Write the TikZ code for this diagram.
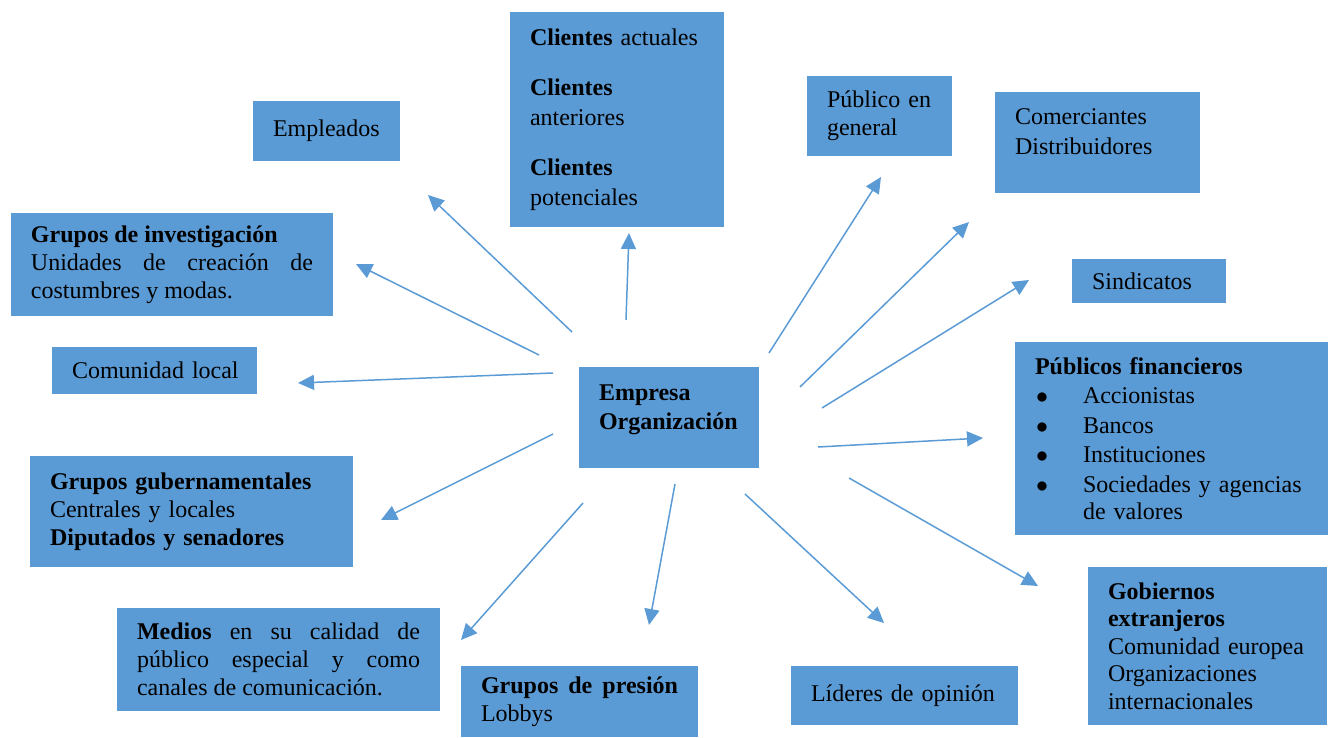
\documentclass[tikz,border=0pt]{standalone}
\usepackage{fontspec}
\setmainfont{Liberation Serif}
\usepackage{tikz}
\usetikzlibrary{arrows.meta,positioning}
\definecolor{boxblue}{HTML}{5B9BD5}
\hyphenpenalty=10000
\exhyphenpenalty=10000
\newcommand{\itembul}{\makebox[24pt][l]{\hspace{0.5pt}$\bullet$}}

\begin{document}
\begin{tikzpicture}[x=0.5pt,y=-0.5pt,
    box/.style={fill=boxblue,draw=none,inner xsep=10pt,inner ysep=0pt,align=left,font=\fontsize{12}{14}\selectfont},
    arr/.style={draw=boxblue,line width=0.75pt,-{Triangle[length=8pt,width=7.5pt]}}]
    \useasboundingbox (0,0) rectangle (1328,738);

    \node[box,minimum width=107pt,minimum height=107pt,text width=87pt,font=\fontsize{12}{15}\selectfont] (clientes) at (617,119.5)
        {\textbf{Clientes} actuales\\[10pt]\textbf{Clientes}\\anteriores\\[10pt]\textbf{Clientes}\\potenciales};
    \node[box,minimum width=73.5pt,minimum height=30pt,text width=53.5pt] (empleados) at (326.5,131) {\mbox{Empleados}};
    \node[box,minimum width=72.5pt,minimum height=40pt,text width=52.5pt] (publico) at (879.5,116) {\mbox{Público en}\\general};
    \node[box,minimum width=102.5pt,minimum height=50.5pt,text width=82.5pt,font=\fontsize{12}{15}\selectfont] (comerciantes) at (1097.5,142.5)
        {Comerciantes\\Distribuidores\\[-4.5pt]\mbox{}};
    \node[box,minimum width=77pt,minimum height=22pt,text width=57pt] (sindicatos) at (1149,281) {Sindicatos};
    \node[box,minimum width=161pt,minimum height=51.5pt,text width=141pt,align=justify] (investigacion) at (172,264.5)
        {\textbf{Grupos de investigación}\\Unidades de creación de costumbres y modas.};
    \node[box,minimum width=102.5pt,minimum height=23.5pt,text width=82.5pt] (comunidad) at (154.5,370.5) {\mbox{Comunidad local}};
    \node[box,minimum width=90pt,minimum height=50.5pt,text width=70pt,font=\fontsize{12}{14.5}\selectfont\bfseries] (empresa) at (669,417.5)
        {Empresa\\Organización\\[-4pt]\mbox{}};
    \node[box,minimum width=156.5pt,minimum height=96.5pt,text width=136.5pt,font=\fontsize{12}{14.75}\selectfont] (financieros) at (1171.5,438.5)
        {\textbf{Públicos financieros}\\
         \itembul Accionistas\\
         \itembul Bancos\\
         \itembul Instituciones\\
         \itembul\parbox[t]{117.5pt}{\baselineskip=13.5pt Sociedades y agencias de valores}};
    \node[box,minimum width=161.5pt,minimum height=55.5pt,text width=141.5pt] (gubernamentales) at (191.5,511.5)
        {\textbf{Grupos gubernamentales}\\Centrales y locales\\\textbf{Diputados y senadores}};
    \node[box,minimum width=161.5pt,minimum height=51.5pt,text width=141.5pt,align=justify] (medios) at (278.5,659.5)
        {\textbf{Medios} en su calidad de público especial y como canales de comunicación.};
    \node[box,minimum width=118.5pt,minimum height=35.5pt,text width=98.5pt,align=justify] (presion) at (579.5,701.5)
        {\textbf{Grupos de presión} Lobbys};
    \node[box,minimum width=113.5pt,minimum height=29.5pt,text width=93.5pt] (lideres) at (904.5,695.5) {Líderes de opinión};
    \node[box,minimum width=119.5pt,minimum height=79pt,text width=99.5pt,font=\fontsize{12}{13.7}\selectfont] (gobiernos) at (1207.5,646)
        {\textbf{Gobiernos}\\\textbf{extranjeros}\\Comunidad europea\\Organizaciones\\internacionales};

    \coordinate (o1) at (626,320);  \coordinate (p1) at (629,233);
    \coordinate (o2) at (572,332);  \coordinate (p2) at (428,195);
    \coordinate (o3) at (539,355);  \coordinate (p3) at (356,264);
    \coordinate (o4) at (553,373);  \coordinate (p4) at (298,383);
    \coordinate (o5) at (553,434);  \coordinate (p5) at (381,520);
    \coordinate (o6) at (583,503);  \coordinate (p6) at (461,640);
    \coordinate (o7) at (675,484);  \coordinate (p7) at (649,625);
    \coordinate (o8) at (745,494);  \coordinate (p8) at (884,623);
    \coordinate (o9) at (849,478);  \coordinate (p9) at (1038,586);
    \coordinate (o10) at (818,447); \coordinate (p10) at (983,438);
    \coordinate (o11) at (822,408); \coordinate (p11) at (1029,280);
    \coordinate (o12) at (800,387); \coordinate (p12) at (969,222);
    \coordinate (o13) at (769,353); \coordinate (p13) at (881,177);

    \draw[arr] (o1) -- (p1);
    \draw[arr] (o2) -- (p2);
    \draw[arr] (o3) -- (p3);
    \draw[arr] (o4) -- (p4);
    \draw[arr] (o5) -- (p5);
    \draw[arr] (o6) -- (p6);
    \draw[arr] (o7) -- (p7);
    \draw[arr] (o8) -- (p8);
    \draw[arr] (o9) -- (p9);
    \draw[arr] (o10) -- (p10);
    \draw[arr] (o11) -- (p11);
    \draw[arr] (o12) -- (p12);
    \draw[arr] (o13) -- (p13);
\end{tikzpicture}
\end{document}
